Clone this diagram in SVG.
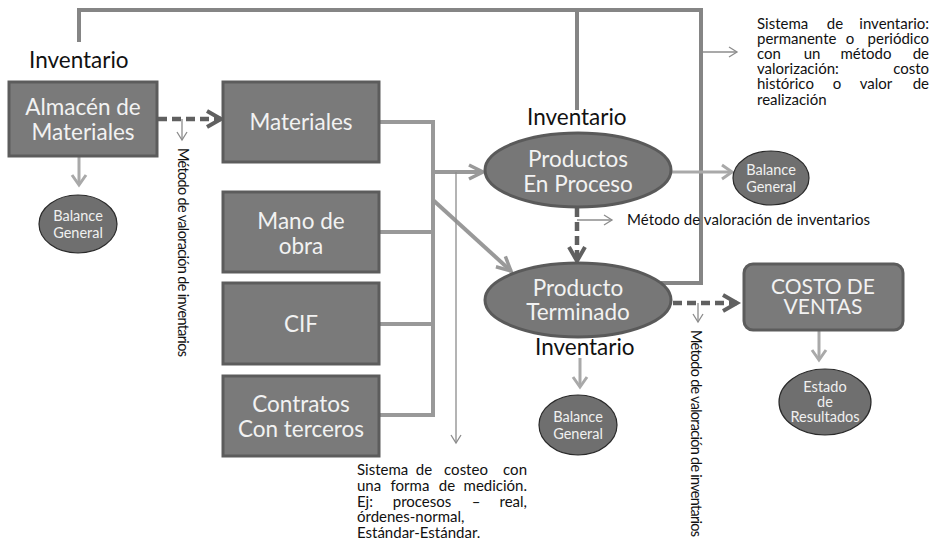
<svg xmlns="http://www.w3.org/2000/svg" width="938" height="543" viewBox="0 0 938 543">
<style>
.box{fill:#7a7a7a;stroke:#5c5c5c;stroke-width:3}
.ell{fill:#777777;stroke:#5a5a5a;stroke-width:3}
.sm{fill:#6f6f6f;stroke:#2a2a2a;stroke-width:1.2}
.bt{font-family:Lato,"Open Sans",sans-serif;font-size:22.5px;fill:#f2f2f2;text-anchor:middle}
.ct{font-size:21px}
.st{font-family:Lato,"Open Sans",sans-serif;font-size:14.5px;fill:#f0f0f0;text-anchor:middle}
.lbl{font-family:Lato,"Open Sans",sans-serif;font-size:22.5px;fill:#111}
.d{font-family:Lato,"Open Sans",sans-serif;font-size:15px;fill:#111}
.v{font-family:Lato,"Open Sans",sans-serif;font-size:14.5px;fill:#111}
.frame{fill:none;stroke:#858585;stroke-width:4}
.conn{fill:none;stroke:#999999;stroke-width:4}
.dash{fill:none;stroke:#606060;stroke-width:4.5;stroke-dasharray:9 5}
.light{fill:none;stroke:#a9a9a9;stroke-width:3}
.thin{fill:none;stroke:#8c8c8c;stroke-width:1.3}
</style>
<defs>
<marker id="ahDark" markerUnits="userSpaceOnUse" markerWidth="24" markerHeight="24" refX="16" refY="10" orient="auto" overflow="visible">
<path d="M2,2 L16,10 L2,18" fill="none" stroke="#606060" stroke-width="4"/>
</marker>
<marker id="ahMid" markerUnits="userSpaceOnUse" markerWidth="24" markerHeight="24" refX="16" refY="9" orient="auto" overflow="visible">
<path d="M2,2 L16,9 L2,16" fill="none" stroke="#999999" stroke-width="3.5"/>
</marker>
<marker id="ahLight" markerUnits="userSpaceOnUse" markerWidth="20" markerHeight="20" refX="12" refY="8" orient="auto" overflow="visible">
<path d="M2,1 L12,8 L2,15" fill="none" stroke="#a9a9a9" stroke-width="3"/>
</marker>
<marker id="ahThin" markerUnits="userSpaceOnUse" markerWidth="14" markerHeight="14" refX="9" refY="5" orient="auto" overflow="visible">
<path d="M1,0 L9,5 L1,10" fill="none" stroke="#8c8c8c" stroke-width="1.3"/>
</marker>
</defs>
<rect width="938" height="543" fill="#ffffff"/>

<g id="connectors">
<polyline class="frame" points="79,42 79,10 701,10 701,283 661,283"/>
<line class="frame" x1="577" y1="10" x2="577" y2="110"/>
<line class="conn" x1="379" y1="122" x2="433" y2="122"/>
<line class="conn" x1="379" y1="232" x2="433" y2="232"/>
<line class="conn" x1="379" y1="324" x2="433" y2="324"/>
<line class="conn" x1="379" y1="415" x2="433" y2="415"/>
<line class="conn" x1="433" y1="120" x2="433" y2="417"/>
<line class="conn" x1="433" y1="172" x2="483" y2="172" marker-end="url(#ahMid)"/>
<line class="conn" x1="433" y1="200" x2="511" y2="271" marker-end="url(#ahMid)"/>
<line class="dash" x1="158" y1="119" x2="221" y2="119" marker-end="url(#ahDark)"/>
<line class="dash" x1="577" y1="208" x2="577" y2="261" marker-end="url(#ahDark)"/>
<line class="dash" x1="673" y1="303" x2="737" y2="303" marker-end="url(#ahDark)"/>
<line class="light" x1="79" y1="157" x2="79" y2="185" marker-end="url(#ahLight)"/>
<line class="light" x1="672" y1="172" x2="732" y2="172" marker-end="url(#ahLight)"/>
<line class="light" x1="580" y1="358" x2="580" y2="387" marker-end="url(#ahLight)"/>
<line class="light" x1="819" y1="331" x2="819" y2="360" marker-end="url(#ahLight)"/>
<line class="thin" x1="182" y1="119" x2="182" y2="140" marker-end="url(#ahThin)"/>
<line class="thin" x1="456" y1="172" x2="456" y2="443" marker-end="url(#ahThin)"/>
<line class="thin" x1="577" y1="220" x2="612" y2="220" marker-end="url(#ahThin)"/>
<line class="thin" x1="698" y1="303" x2="698" y2="322" marker-end="url(#ahThin)"/>
<line class="thin" x1="703" y1="52" x2="737" y2="52" marker-end="url(#ahThin)"/>
</g>

<g id="almacen">
<text class="lbl" x="29" y="68">Inventario</text>
<rect class="box" x="9" y="82" width="148" height="74"/>
<text class="bt" x="83" y="115">Almacén de</text>
<text class="bt" x="83" y="140">Materiales</text>
</g>
<g id="balance1">
<ellipse class="sm" cx="78" cy="224" rx="39" ry="29"/>
<text class="st" x="78" y="221">Balance</text>
<text class="st" x="78" y="238">General</text>
</g>
<g id="materiales">
<rect class="box" x="223" y="82" width="156" height="80"/>
<text class="bt" x="301" y="130">Materiales</text>
</g>
<g id="mano">
<rect class="box" x="223" y="192" width="156" height="80"/>
<text class="bt" x="301" y="229">Mano de</text>
<text class="bt" x="301" y="254">obra</text>
</g>
<g id="cif">
<rect class="box" x="223" y="283" width="156" height="81"/>
<text class="bt" x="301" y="332">CIF</text>
</g>
<g id="contratos">
<rect class="box" x="223" y="376" width="156" height="80"/>
<text class="bt" x="301" y="412">Contratos</text>
<text class="bt" x="301" y="437">Con terceros</text>
</g>
<g id="proceso">
<text class="lbl" x="527" y="125">Inventario</text>
<ellipse class="ell" cx="578" cy="170" rx="93" ry="37"/>
<text class="bt" x="578" y="167">Productos</text>
<text class="bt" x="578" y="192">En Proceso</text>
</g>
<g id="balance2">
<ellipse class="sm" cx="771" cy="178" rx="38" ry="27"/>
<text class="st" x="771" y="175">Balance</text>
<text class="st" x="771" y="192">General</text>
</g>
<g id="terminado">
<ellipse class="ell" cx="578" cy="300" rx="93" ry="37"/>
<text class="bt" x="578" y="296">Producto</text>
<text class="bt" x="578" y="320">Terminado</text>
<text class="lbl" x="535" y="355">Inventario</text>
</g>
<g id="balance3">
<ellipse class="sm" cx="578" cy="425" rx="39" ry="30"/>
<text class="st" x="578" y="422">Balance</text>
<text class="st" x="578" y="439">General</text>
</g>
<g id="costo">
<rect class="box" x="744" y="264" width="159" height="66" rx="9"/>
<text class="bt ct" x="823" y="294">COSTO DE</text>
<text class="bt ct" x="823" y="314">VENTAS</text>
</g>
<g id="estado">
<ellipse class="sm" cx="825" cy="402" rx="46" ry="33"/>
<text class="st" x="825" y="392">Estado</text>
<text class="st" x="825" y="407">de</text>
<text class="st" x="825" y="422">Resultados</text>
</g>

<g id="notes">
<text class="v" x="178" y="148" transform="rotate(90 178 148)" textLength="209">Método de valoración de inventarios</text>
<text class="v" x="691" y="330" transform="rotate(90 691 330)" textLength="207">Método de valoración de inventarios</text>
<text class="d" x="627" y="225" textLength="243">Método de valoración de inventarios</text>
<g class="d">
<text x="757" y="29">Sistema</text><text x="835" y="29" text-anchor="middle">de</text><text x="929" y="29" text-anchor="end">inventario:</text>
<text x="757" y="44">permanente</text><text x="850" y="44" text-anchor="middle">o</text><text x="929" y="44" text-anchor="end">periódico</text>
<text x="757" y="59">con</text><text x="812" y="59" text-anchor="middle">un</text><text x="866" y="59" text-anchor="middle">método</text><text x="929" y="59" text-anchor="end">de</text>
<text x="757" y="74">valorización:</text><text x="929" y="74" text-anchor="end">costo</text>
<text x="757" y="89">histórico</text><text x="837" y="89" text-anchor="middle">o</text><text x="876" y="89" text-anchor="middle">valor</text><text x="929" y="89" text-anchor="end">de</text>
<text x="757" y="105">realización</text>
</g>
<g class="d">
<text x="357" y="475">Sistema</text><text x="424" y="475" text-anchor="middle">de</text><text x="466" y="475" text-anchor="middle">costeo</text><text x="527" y="475" text-anchor="end">con</text>
<text x="357" y="491">una</text><text x="410" y="491" text-anchor="middle">forma</text><text x="447" y="491" text-anchor="middle">de</text><text x="527" y="491" text-anchor="end">medición.</text>
<text x="357" y="507">Ej:</text><text x="422" y="507" text-anchor="middle">procesos</text><text x="476" y="507" text-anchor="middle">–</text><text x="527" y="507" text-anchor="end">real,</text>
<text x="357" y="522">órdenes-normal,</text>
<text x="357" y="538">Estándar-Estándar.</text>
</g>
</g>
</svg>
